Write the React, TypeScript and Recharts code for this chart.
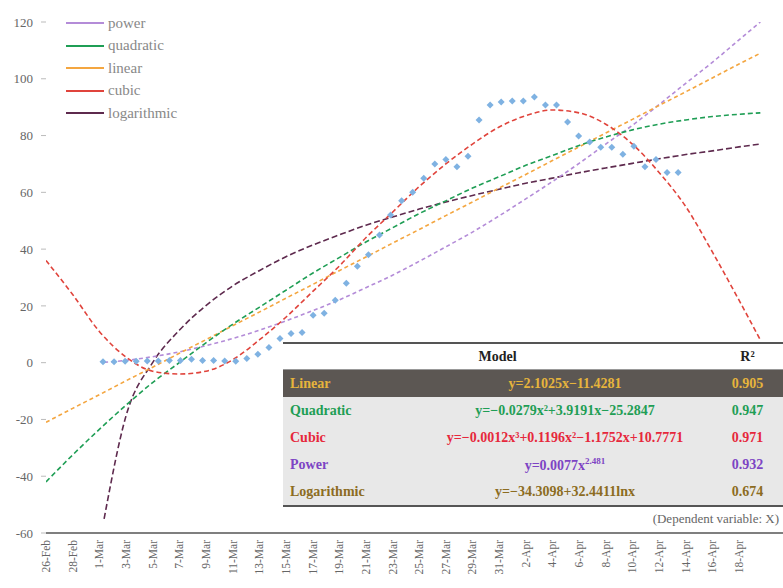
import React from "react"
import { ComposedChart, Line, Scatter, XAxis, YAxis } from "recharts"

// tick labels of the date axis, one every second day
const dateLabels = [
  "26-Feb", "28-Feb", "1-Mar", "3-Mar", "5-Mar", "7-Mar", "9-Mar", "11-Mar", "13-Mar",
  "15-Mar", "17-Mar", "19-Mar", "21-Mar", "23-Mar", "25-Mar", "27-Mar", "29-Mar", "31-Mar",
  "2-Apr", "4-Apr", "6-Apr", "8-Apr", "10-Apr", "12-Apr", "14-Apr", "16-Apr", "18-Apr",
]

// observed values, one per day
const observed = [
  0.3, 0.3, 0.5, 0.5, 0.6, 0.6, 0.8, 0.8, 1.2, 0.8, 0.8, 0.6, 0.5, 1.5, 3, 5.3, 8.5, 10.3,
  10.6, 16.7, 17.4, 22, 28, 34, 38, 45, 52, 57, 60, 65, 70, 71.6, 69, 72.7, 85.5, 90.8, 91.8,
  92.2, 92.2, 93.6, 90.8, 90.8, 84.8, 79.8, 77.7, 75.9, 75.9, 73.4, 76.2, 69, 71.6, 67, 67,
]

// trend lines, sampled at the date tick positions
const trendX = [0, 1, 2, 2.18, 3, 4, 5, 6, 7, 8, 9, 10, 11, 12, 13, 14, 15, 16, 17, 18, 19, 20, 21, 22, 23, 24, 25, 26, 26.8]
const linear = [-21, -16.1, -11.3, null, -6.4, -1.6, 3.3, 8.1, 13, 17.8, 22.7, 27.5, 32.4, 37.2, 42.1, 46.9, 51.8, 56.6, 61.5, 66.3, 71.2, 76, 80.9, 85.7, 90.6, 95.4, 100.3, 105.2, 109]
const quadratic = [-42, -32.5, -23.5, null, -15, -7, 0, 7, 13.5, 19.5, 25.5, 31.5, 37, 42.5, 47.5, 52.5, 57, 61.5, 65.5, 69.5, 73, 76.5, 79.5, 82, 84, 85.5, 86.7, 87.5, 88]
const cubic = [36, 24, 11, null, 2, -3, -4, -3, 1, 8, 16, 25, 34, 44, 53, 62, 70, 77, 83, 87, 89, 88, 84, 77, 67, 55, 39, 22, 8]
const power = [null, null, null, 0.1, 0.8, 2.1, 3.8, 6, 8.5, 11.4, 14.7, 18.3, 22.1, 26.4, 30.8, 35.7, 40.8, 46, 51.7, 57.7, 63.8, 70.2, 77, 83.6, 90.9, 98.4, 105.8, 113.7, 120]
const logarithmic = [null, null, null, -55, -18.8, 0, 11.4, 20.1, 27, 32.4, 37.3, 41.4, 45, 48.4, 51.3, 54.1, 56.6, 58.9, 61.1, 63.2, 65, 66.9, 68.6, 70.2, 71.8, 73.3, 74.6, 76, 77]

const legendNames = ["power", "quadratic", "linear", "cubic", "logarithmic"]
const legendColors = ["#b48cd8", "#1f9e55", "#f4a640", "#e0443c", "#5e2a4e"]

// fit summary table
const modelNames = ["Linear", "Quadratic", "Cubic", "Power", "Logarithmic"]
const modelEquations = [
  "y=2.1025x−11.4281",
  "y=−0.0279x²+3.9191x−25.2847",
  "y=−0.0012x³+0.1196x²−1.1752x+10.7771",
  "y=0.0077x",
  "y=−34.3098+32.4411lnx",
]
const powerExponent = "2.481"
const modelR2 = ["0.905", "0.947", "0.971", "0.932", "0.674"]
const modelColors = ["#e6b43c", "#1f9e55", "#e6283c", "#7d44c4", "#8c6c22"]

const FONT = "'Liberation Serif', 'DejaVu Serif', serif"

const trendData = trendX.map((x, i) => ({
  x,
  linear: linear[i],
  quadratic: quadratic[i],
  cubic: cubic[i],
  power: power[i],
  logarithmic: logarithmic[i],
}))
const pointData = observed.map((value, day) => ({ day, value }))

const DateTick = ({ x, y, payload }: any) => (
  <text
    x={x}
    y={y}
    dy="0.35em"
    transform={`rotate(-90 ${x} ${y})`}
    textAnchor="end"
    fontSize={11.5}
    fontFamily={FONT}
    fill="#666"
  >
    {dateLabels[payload.value]}
  </text>
)

const Diamond = ({ cx, cy }: any) => (
  <path d={`M${cx},${cy - 3.5}L${cx + 3.5},${cy}L${cx},${cy + 3.5}L${cx - 3.5},${cy}Z`} fill="#7fb2e2" />
)

export default function App() {
  const cell: React.CSSProperties = { padding: "0 7px", height: 27, whiteSpace: "nowrap" }
  return (
    <div style={{ position: "absolute", left: 0, top: 0, width: 783, height: 588, background: "#fff" }}>
      <ComposedChart width={783} height={588} data={trendData} margin={{ top: 22, right: 0, bottom: 0, left: 0 }}>
        <XAxis xAxisId="day" dataKey="day" type="number" domain={[-5.154, 61.48]} hide height={0} allowDataOverflow />
        <XAxis
          xAxisId="lbl"
          dataKey="x"
          type="number"
          domain={[0, 27.65]}
          ticks={dateLabels.map((_, i) => i)}
          tick={<DateTick />}
          tickSize={0}
          tickMargin={7}
          interval={0}
          height={55}
          allowDataOverflow
          axisLine={{ stroke: "#555", strokeWidth: 1.5 }}
        />
        <YAxis
          type="number"
          domain={[-60, 120]}
          ticks={[-60, -40, -20, 0, 20, 40, 60, 80, 100, 120]}
          width={46}
          axisLine={false}
          tickLine={{ stroke: "#bbb" }}
          tickSize={5}
          tickMargin={8}
          allowDataOverflow
          tick={{ fontSize: 13, fontFamily: FONT, fill: "#666" }}
        />
        <Scatter xAxisId="day" data={pointData} dataKey="value" shape={<Diamond />} isAnimationActive={false} />
        <Line xAxisId="lbl" type="monotone" dataKey="logarithmic" stroke={legendColors[4]} strokeWidth={1.6} strokeDasharray="6 3" dot={false} connectNulls isAnimationActive={false} />
        <Line xAxisId="lbl" type="monotone" dataKey="power" stroke={legendColors[0]} strokeWidth={1.6} strokeDasharray="4 3" dot={false} connectNulls isAnimationActive={false} />
        <Line xAxisId="lbl" type="monotone" dataKey="linear" stroke={legendColors[2]} strokeWidth={1.6} strokeDasharray="4 3" dot={false} connectNulls isAnimationActive={false} />
        <Line xAxisId="lbl" type="monotone" dataKey="quadratic" stroke={legendColors[1]} strokeWidth={1.6} strokeDasharray="5 3" dot={false} connectNulls isAnimationActive={false} />
        <Line xAxisId="lbl" type="monotone" dataKey="cubic" stroke={legendColors[3]} strokeWidth={1.6} strokeDasharray="5 3" dot={false} connectNulls isAnimationActive={false} />
      </ComposedChart>

      <div style={{ position: "absolute", left: 66, top: 12, fontFamily: FONT, fontSize: 15, color: "#888" }}>
        {legendNames.map((name, i) => (
          <div key={name} style={{ display: "flex", alignItems: "center", height: 22.5 }}>
            <span style={{ display: "inline-block", width: 38, height: 2, background: legendColors[i], marginRight: 4 }} />
            {name}
          </div>
        ))}
      </div>

      <table
        style={{
          position: "absolute",
          left: 283,
          top: 342,
          width: 500,
          borderCollapse: "collapse",
          fontFamily: FONT,
          fontSize: 14,
          fontWeight: "bold",
          borderTop: "2px solid #555",
          borderBottom: "2px solid #555",
        }}
      >
        <colgroup>
          <col style={{ width: 135 }} />
          <col style={{ width: 294 }} />
          <col style={{ width: 71 }} />
        </colgroup>
        <tbody>
          <tr style={{ background: "#fff", borderBottom: "1px solid #999" }}>
            <td colSpan={2} style={{ ...cell, height: 25, textAlign: "center", color: "#222" }}>Model</td>
            <td style={{ ...cell, height: 25, textAlign: "center", color: "#222" }}>R²</td>
          </tr>
          {modelNames.map((name, i) => (
            <tr key={name} style={{ background: i === 0 ? "#5c5753" : "#e8e8e8", color: modelColors[i] }}>
              <td style={cell}>{name}</td>
              <td style={{ ...cell, textAlign: "center" }}>
                {modelEquations[i]}
                {name === "Power" ? <sup style={{ fontSize: 9 }}>{powerExponent}</sup> : null}
              </td>
              <td style={{ ...cell, textAlign: "center" }}>{modelR2[i]}</td>
            </tr>
          ))}
        </tbody>
      </table>

      <div
        style={{
          position: "absolute",
          right: 4,
          top: 511,
          fontFamily: FONT,
          fontSize: 13,
          color: "#666",
          whiteSpace: "nowrap",
        }}
      >
        (Dependent variable: X)
      </div>
    </div>
  )
}
